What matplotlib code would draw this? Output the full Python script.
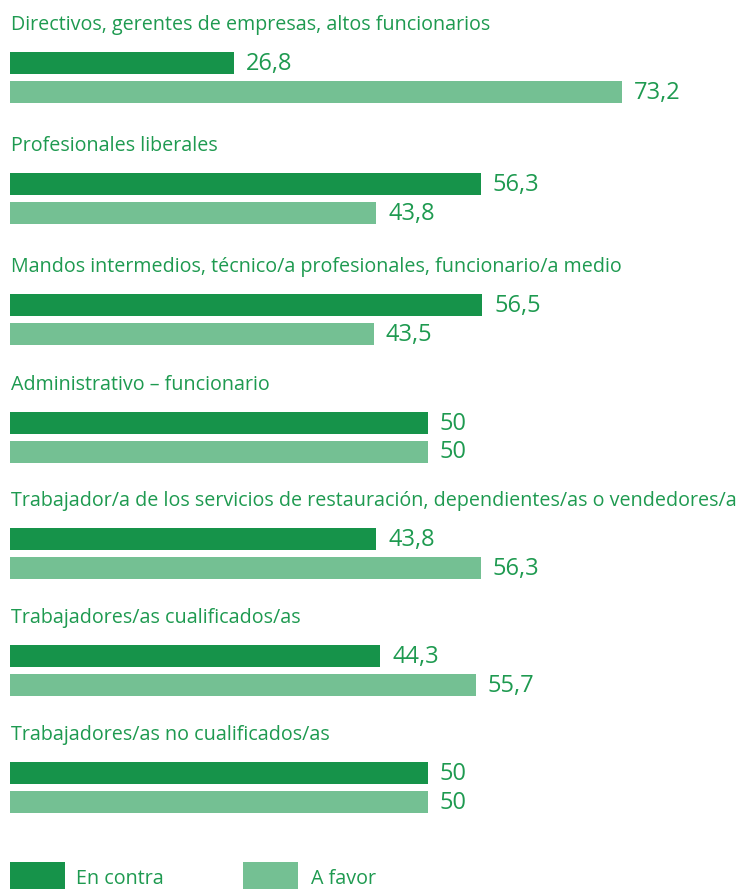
import matplotlib.pyplot as plt

# Data
categories = [
    "Directivos, gerentes de empresas, altos funcionarios",
    "Profesionales liberales",
    "Mandos intermedios, técnico/a profesionales, funcionario/a medio",
    "Administrativo \u2013 funcionario",
    "Trabajador/a de los servicios de restauración, dependientes/as o vendedores/a",
    "Trabajadores/as cualificados/as",
    "Trabajadores/as no cualificados/as",
]
en_contra = [26.8, 56.3, 56.5, 50, 43.8, 44.3, 50]
a_favor = [73.2, 43.8, 43.5, 50, 56.3, 55.7, 50]
en_contra_labels = ["26,8", "56,3", "56,5", "50", "43,8", "44,3", "50"]
a_favor_labels = ["73,2", "43,8", "43,5", "50", "56,3", "55,7", "50"]

dark = "#16934a"
light = "#74c093"
text_color = "#1e9a50"

plt.rcParams["font.family"] = ["Open Sans", "DejaVu Sans"]

W, H = 742, 889
fig = plt.figure(figsize=(W / 100, H / 100), dpi=100)
# axes in pixel-like y units, x in data units (approx 8.36 px per unit)
ax = fig.add_axes([10 / W, 0, (W - 10) / W, 1])
px_per_unit = 8.36
ax.set_xlim(0, (W - 10) / px_per_unit)
ax.set_ylim(H, 0)
ax.axis("off")

# vertical center of the dark bar in each group (pixels from top)
group_y = [63, 184, 305, 422.5, 539, 656, 773]
bar_h = 22
gap = 29
label_size = 14.2
value_size = 17

for i, cat in enumerate(categories):
    y0 = group_y[i]
    y1 = y0 + gap
    ax.barh(y0, en_contra[i], height=bar_h, color=dark, left=0)
    ax.barh(y1, a_favor[i], height=bar_h, color=light, left=0)
    ax.text(12 / px_per_unit + en_contra[i], y0 + 1, en_contra_labels[i],
            va="center", ha="left", fontsize=value_size, color=text_color)
    ax.text(12 / px_per_unit + a_favor[i], y1 + 1, a_favor_labels[i],
            va="center", ha="left", fontsize=value_size, color=text_color)
    ax.text(1 / px_per_unit, y0 - 38, cat, va="center", ha="left",
            fontsize=label_size, color=text_color)

# legend
ax.barh(876, 55 / px_per_unit, height=28, color=dark, left=0)
ax.text(66 / px_per_unit, 879, "En contra", va="center", ha="left",
        fontsize=label_size, color=text_color)
ax.barh(876, 55 / px_per_unit, height=28, color=light, left=233 / px_per_unit)
ax.text(301 / px_per_unit, 879, "A favor", va="center", ha="left",
        fontsize=label_size, color=text_color)

fig.savefig("out.png", dpi=100)
